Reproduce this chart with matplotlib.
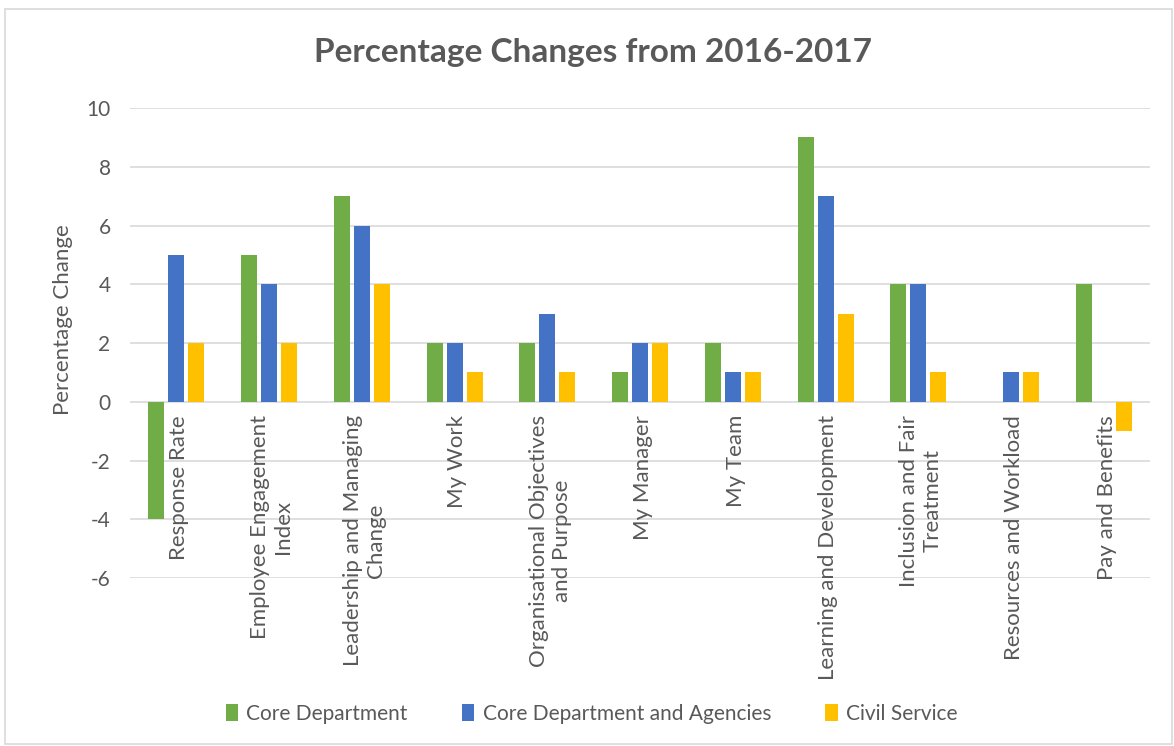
import numpy as np
import matplotlib.pyplot as plt
from matplotlib.patches import Rectangle

categories = ['Response Rate', 'Employee Engagement\nIndex', 'Leadership and Managing\nChange',
              'My Work', 'Organisational Objectives\nand Purpose', 'My Manager', 'My Team',
              'Learning and Development', 'Inclusion and Fair\nTreatment',
              'Resources and Workload', 'Pay and Benefits']
core_dept = [-4, 5, 7, 2, 2, 1, 2, 9, 4, 0, 4]
core_agencies = [5, 4, 6, 2, 3, 2, 1, 7, 4, 1, 0]
civil_service = [2, 2, 4, 1, 1, 2, 1, 3, 1, 1, -1]
series_names = ['Core Department', 'Core Department and Agencies', 'Civil Service']
yticks = [-6, -4, -2, 0, 2, 4, 6, 8, 10]

plt.rcParams['font.family'] = ['Lato', 'DejaVu Sans']
txt = '#595959'
grid = '#D9D9D9'

fig = plt.figure(figsize=(11.74, 7.46), dpi=100)
ax = fig.add_axes([0.1107, 0.2252, 0.869, 0.63])

x = np.arange(len(categories))
w = 0.173
step = 0.216
ax.bar(x - step, core_dept, w, color='#70AD47', label=series_names[0], zorder=3)
ax.bar(x, core_agencies, w, color='#4472C4', label=series_names[1], zorder=3)
ax.bar(x + step, civil_service, w, color='#FFC000', label=series_names[2], zorder=3)

ax.set_xlim(-0.5, len(categories) - 0.5)
ax.set_ylim(-6, 10)
ax.set_yticks(yticks)
ax.set_yticklabels([str(v) for v in yticks])
ax.tick_params(axis='y', length=0, pad=14, labelsize=15, labelcolor=txt)
ax.set_xticks([])
for s in ax.spines.values():
    s.set_visible(False)
ax.yaxis.grid(True, color=grid, lw=1.2, zorder=0)
ax.set_axisbelow(True)

for i, lab in enumerate(categories):
    ax.text(i + 0.03, -0.45, lab, rotation=90, ha='center', va='top', multialignment='center',
            fontsize=16, color=txt, zorder=4)

ax.set_ylabel('Percentage Change', fontsize=16, color=txt)
ax.yaxis.set_label_coords(-0.056, 0.55)

fig.text(0.505, 0.93, 'Percentage Changes from 2016-2017', ha='center', va='center',
         fontsize=24, fontweight='bold', color=txt)

fig.legend(loc='center', bbox_to_anchor=(0.504, 0.043), ncol=3, frameon=False,
           fontsize=15, labelcolor=txt, handlelength=0.6, handleheight=0.9,
           handletextpad=0.4, columnspacing=2.6)

fig.patches.append(Rectangle((0.004, 0.003), 0.994, 0.985, transform=fig.transFigure,
                             fill=False, edgecolor='#D9D9D9', lw=1.2))

fig.savefig('out.png', dpi=100, facecolor='white')
